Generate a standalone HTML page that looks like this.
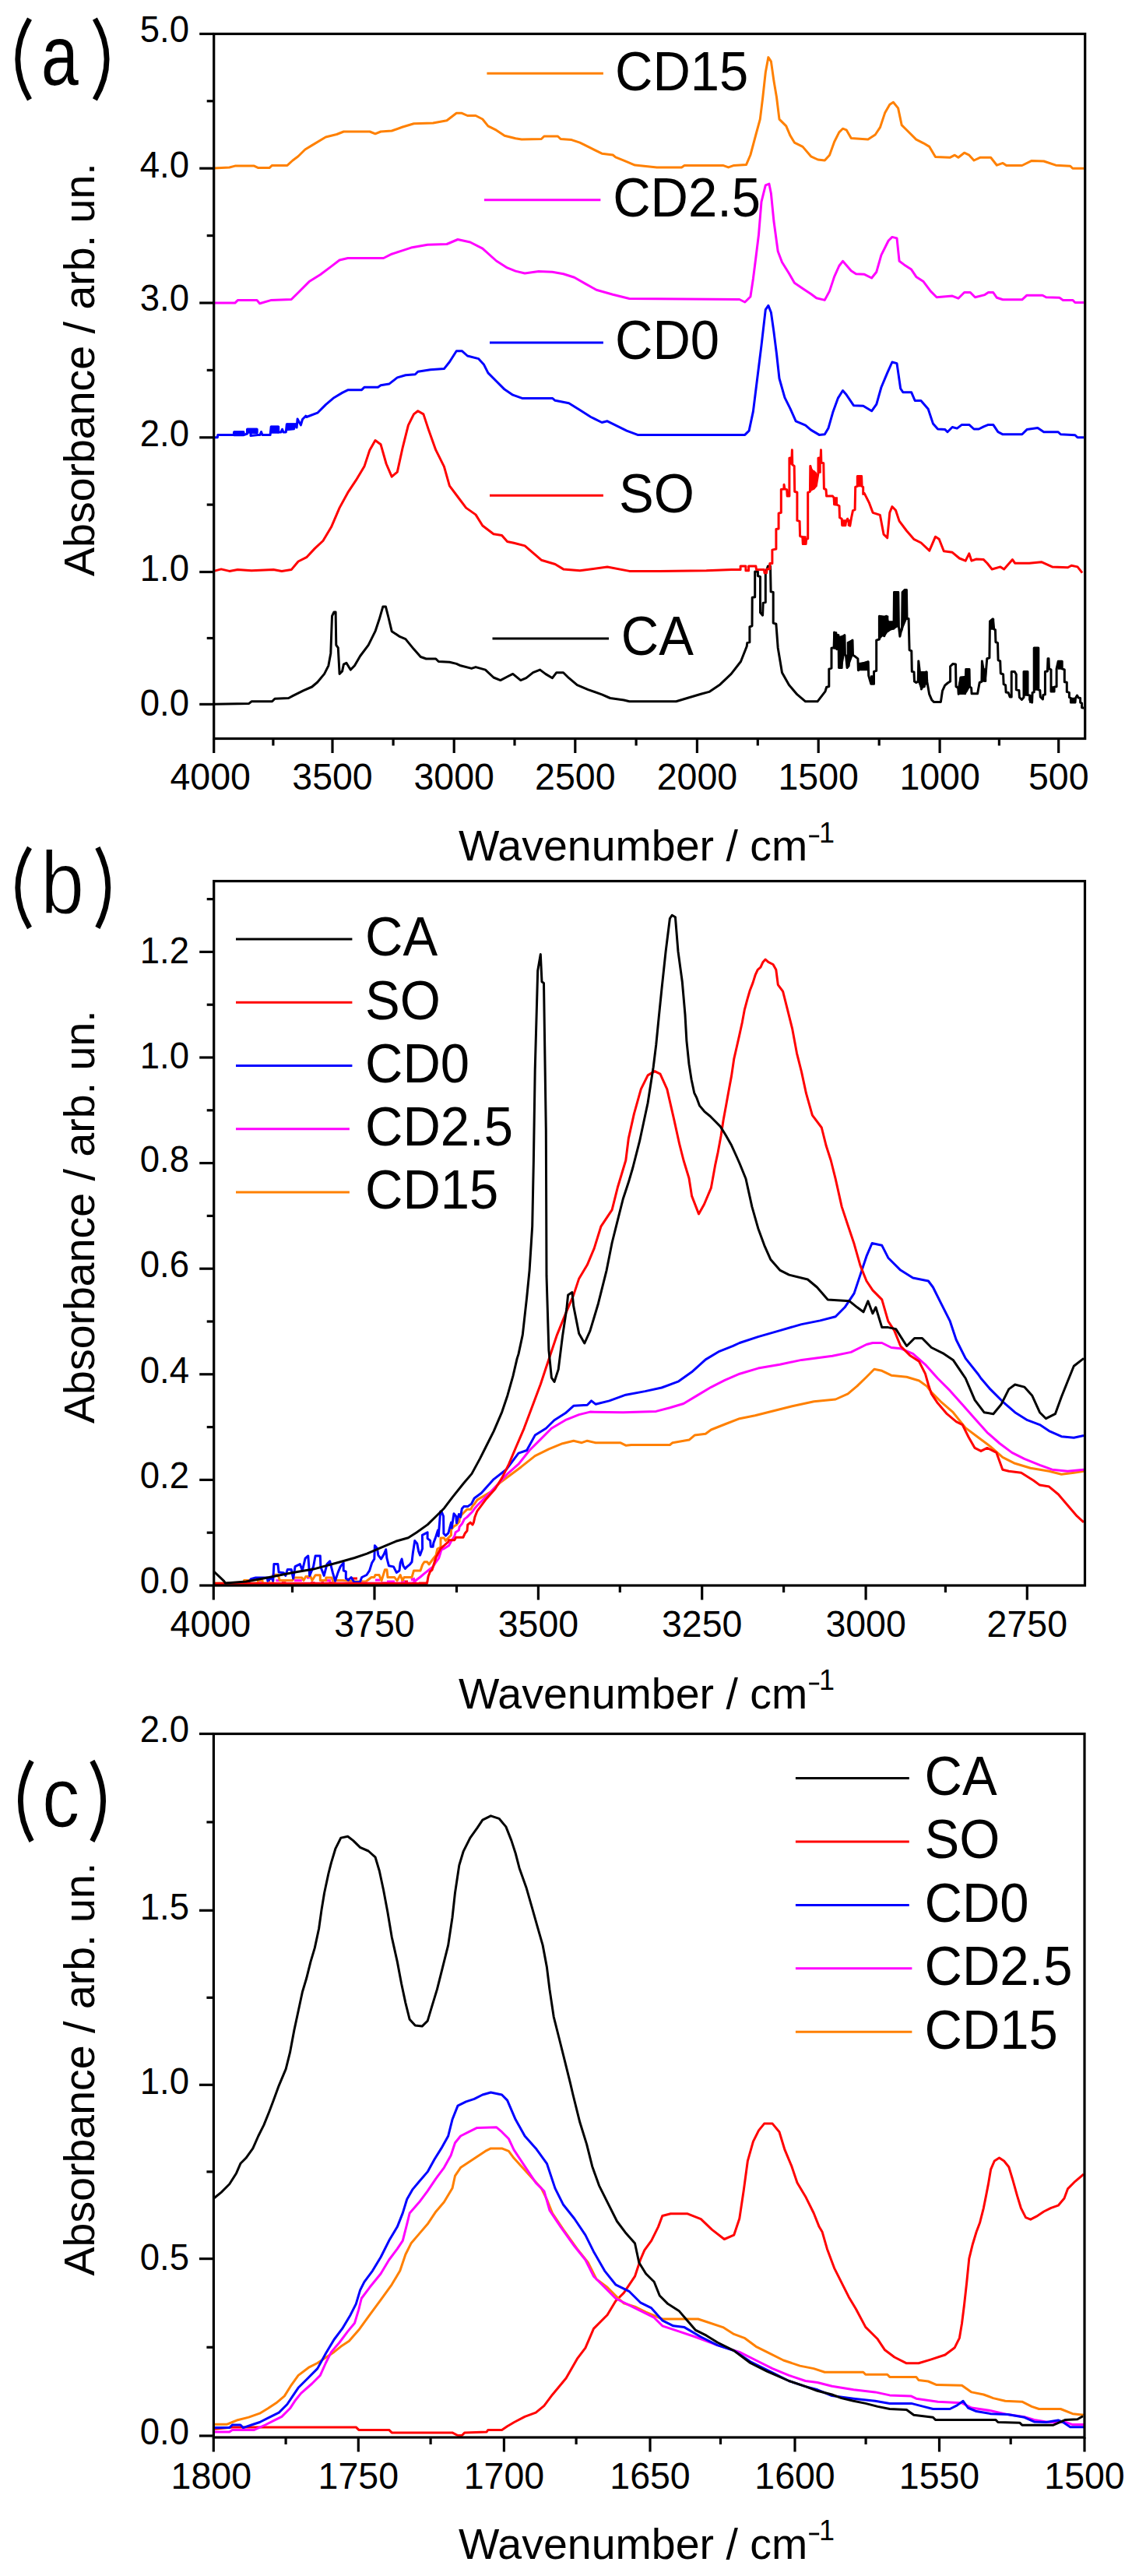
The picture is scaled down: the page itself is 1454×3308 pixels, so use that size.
<!DOCTYPE html><html><head><meta charset="utf-8"><style>html,body{margin:0;padding:0;background:#fff;}svg{display:block;} text{font-family:"Liberation Sans", sans-serif;fill:#000;}</style></head><body>
<svg width="1454" height="3308" viewBox="0 0 1454 3308">
<rect width="1454" height="3308" fill="#fff"/>
<line x1="256.2" y1="43.5" x2="274.7" y2="43.5" stroke="#000" stroke-width="3.20" stroke-linecap="butt"/>
<line x1="256.2" y1="216.2" x2="274.7" y2="216.2" stroke="#000" stroke-width="3.20" stroke-linecap="butt"/>
<line x1="256.2" y1="389.0" x2="274.7" y2="389.0" stroke="#000" stroke-width="3.20" stroke-linecap="butt"/>
<line x1="256.2" y1="561.8" x2="274.7" y2="561.8" stroke="#000" stroke-width="3.20" stroke-linecap="butt"/>
<line x1="256.2" y1="734.5" x2="274.7" y2="734.5" stroke="#000" stroke-width="3.20" stroke-linecap="butt"/>
<line x1="256.2" y1="904.4" x2="274.7" y2="904.4" stroke="#000" stroke-width="3.20" stroke-linecap="butt"/>
<line x1="265.7" y1="819.5" x2="274.7" y2="819.5" stroke="#000" stroke-width="3.20" stroke-linecap="butt"/>
<line x1="265.7" y1="648.1" x2="274.7" y2="648.1" stroke="#000" stroke-width="3.20" stroke-linecap="butt"/>
<line x1="265.7" y1="475.4" x2="274.7" y2="475.4" stroke="#000" stroke-width="3.20" stroke-linecap="butt"/>
<line x1="265.7" y1="302.6" x2="274.7" y2="302.6" stroke="#000" stroke-width="3.20" stroke-linecap="butt"/>
<line x1="265.7" y1="129.8" x2="274.7" y2="129.8" stroke="#000" stroke-width="3.20" stroke-linecap="butt"/>
<text x="0" y="0" font-size="45.5" text-anchor="end" transform="translate(243.0,918.9) scale(1.000,1.050)">0.0</text>
<text x="0" y="0" font-size="45.5" text-anchor="end" transform="translate(243.0,746.0) scale(1.000,1.050)">1.0</text>
<text x="0" y="0" font-size="45.5" text-anchor="end" transform="translate(243.0,572.9) scale(1.000,1.050)">2.0</text>
<text x="0" y="0" font-size="45.5" text-anchor="end" transform="translate(243.0,399.2) scale(1.000,1.050)">3.0</text>
<text x="0" y="0" font-size="45.5" text-anchor="end" transform="translate(243.0,227.5) scale(1.000,1.050)">4.0</text>
<text x="0" y="0" font-size="45.5" text-anchor="end" transform="translate(243.0,54.4) scale(1.000,1.050)">5.0</text>
<line x1="274.7" y1="948.5" x2="274.7" y2="967.0" stroke="#000" stroke-width="3.20" stroke-linecap="butt"/>
<line x1="427.0" y1="948.5" x2="427.0" y2="967.0" stroke="#000" stroke-width="3.20" stroke-linecap="butt"/>
<line x1="583.2" y1="948.5" x2="583.2" y2="967.0" stroke="#000" stroke-width="3.20" stroke-linecap="butt"/>
<line x1="738.8" y1="948.5" x2="738.8" y2="967.0" stroke="#000" stroke-width="3.20" stroke-linecap="butt"/>
<line x1="895.4" y1="948.5" x2="895.4" y2="967.0" stroke="#000" stroke-width="3.20" stroke-linecap="butt"/>
<line x1="1051.2" y1="948.5" x2="1051.2" y2="967.0" stroke="#000" stroke-width="3.20" stroke-linecap="butt"/>
<line x1="1207.1" y1="948.5" x2="1207.1" y2="967.0" stroke="#000" stroke-width="3.20" stroke-linecap="butt"/>
<line x1="1359.7" y1="948.5" x2="1359.7" y2="967.0" stroke="#000" stroke-width="3.20" stroke-linecap="butt"/>
<line x1="350.9" y1="948.5" x2="350.9" y2="957.5" stroke="#000" stroke-width="3.20" stroke-linecap="butt"/>
<line x1="505.1" y1="948.5" x2="505.1" y2="957.5" stroke="#000" stroke-width="3.20" stroke-linecap="butt"/>
<line x1="661.0" y1="948.5" x2="661.0" y2="957.5" stroke="#000" stroke-width="3.20" stroke-linecap="butt"/>
<line x1="817.1" y1="948.5" x2="817.1" y2="957.5" stroke="#000" stroke-width="3.20" stroke-linecap="butt"/>
<line x1="973.3" y1="948.5" x2="973.3" y2="957.5" stroke="#000" stroke-width="3.20" stroke-linecap="butt"/>
<line x1="1129.2" y1="948.5" x2="1129.2" y2="957.5" stroke="#000" stroke-width="3.20" stroke-linecap="butt"/>
<line x1="1283.4" y1="948.5" x2="1283.4" y2="957.5" stroke="#000" stroke-width="3.20" stroke-linecap="butt"/>
<text x="0" y="0" font-size="46.5" text-anchor="middle" transform="translate(270.2,1014.0) scale(1.000,1.050)">4000</text>
<text x="0" y="0" font-size="46.5" text-anchor="middle" transform="translate(427.0,1014.0) scale(1.000,1.050)">3500</text>
<text x="0" y="0" font-size="46.5" text-anchor="middle" transform="translate(583.2,1014.0) scale(1.000,1.050)">3000</text>
<text x="0" y="0" font-size="46.5" text-anchor="middle" transform="translate(738.8,1014.0) scale(1.000,1.050)">2500</text>
<text x="0" y="0" font-size="46.5" text-anchor="middle" transform="translate(895.4,1014.0) scale(1.000,1.050)">2000</text>
<text x="0" y="0" font-size="46.5" text-anchor="middle" transform="translate(1051.2,1014.0) scale(1.000,1.050)">1500</text>
<text x="0" y="0" font-size="46.5" text-anchor="middle" transform="translate(1207.1,1014.0) scale(1.000,1.050)">1000</text>
<text x="0" y="0" font-size="46.5" text-anchor="middle" transform="translate(1359.7,1014.0) scale(1.000,1.050)">500</text>
<polyline points="274.7,904.3 319.5,903.6 323.0,900.8 349.5,900.8 353.0,897.2 370.7,896.5 376.0,893.7 390.1,886.6 400.7,882.0 407.8,876.0 416.6,865.4 421.9,854.8 424.8,838.9 426.5,791.2 429.0,785.9 431.1,785.9 431.8,828.3 434.3,831.9 436.1,865.4 439.6,861.9 441.4,853.1 444.9,851.3 450.2,860.1 455.5,854.8 462.6,842.5 473.2,828.3 482.0,810.7 487.3,794.8 491.9,778.9 495.4,778.9 499.0,793.0 503.2,810.7 513.8,817.7 520.9,820.6 531.5,833.6 540.3,843.5 547.4,846.0 559.8,846.0 563.3,849.5 577.4,850.2 586.3,852.4 591.6,854.8 605.7,858.4 611.0,856.6 623.4,860.1 634.0,870.0 642.8,873.6 651.6,869.0 658.7,865.4 668.8,873.6 675.9,870.7 684.7,863.7 693.6,860.1 700.6,865.4 709.5,870.7 714.8,863.7 723.6,863.7 730.7,870.7 741.3,879.6 755.4,885.6 773.1,891.9 783.7,896.5 801.3,899.0 808.4,900.8 868.5,900.8 882.6,896.5 900.3,891.2 910.9,888.4 925.0,878.9 939.2,865.4 951.5,849.5 959.2,830.0 959.8,825.4 962.9,824.8 962.9,805.0 966.0,803.8 966.2,767.3 969.7,766.7 969.7,733.9 973.4,733.9 973.4,739.5 976.5,740.7 976.5,786.5 979.6,790.2 980.2,774.1 983.3,773.5 983.3,735.8 986.4,727.1 989.5,727.1 990.1,759.9 993.2,760.5 993.2,800.1 996.9,801.3 999.2,831.9 1004.5,863.7 1013.4,879.6 1024.0,891.9 1034.6,900.8 1050.0,900.8 1060.0,887.8 1061.6,882.5 1064.8,881.5 1064.8,859.2 1068.0,858.1 1068.0,832.2 1071.1,831.6 1071.7,812.0 1073.3,813.6 1074.8,833.7 1075.4,815.2 1077.0,815.7 1077.5,857.6 1081.2,857.6 1081.2,818.9 1084.9,815.7 1085.4,841.2 1086.5,841.7 1088.1,857.6 1090.2,855.0 1090.7,825.3 1095.0,822.1 1095.5,841.2 1098.7,843.3 1101.9,845.9 1102.4,860.8 1105.6,856.0 1107.7,852.3 1115.1,849.7 1115.7,867.7 1118.8,878.3 1122.5,878.3 1122.5,862.4 1125.7,861.3 1125.7,822.1 1129.4,821.0 1129.4,791.3 1133.1,791.9 1135.8,816.8 1136.3,813.6 1138.4,791.3 1140.6,798.8 1140.6,810.4 1143.7,807.2 1148.0,807.2 1148.5,760.6 1153.8,760.6 1154.4,804.1 1155.9,817.3 1158.6,805.1 1159.1,760.6 1162.3,757.4 1164.4,757.4 1165.0,794.5 1167.1,794.5 1168.1,834.8 1170.8,835.9 1171.3,862.4 1174.0,862.9 1174.5,875.1 1176.6,876.5 1179.2,875.4 1179.8,848.9 1181.4,862.7 1183.5,885.0 1185.1,863.7 1187.2,881.8 1189.8,862.7 1190.9,875.9 1193.6,891.3 1196.7,898.7 1199.4,901.4 1208.4,901.4 1210.5,887.1 1213.7,880.2 1217.4,877.0 1220.6,874.9 1220.6,855.8 1223.8,852.6 1227.5,853.1 1228.0,881.8 1230.7,883.4 1231.2,891.3 1233.8,870.1 1238.6,869.6 1239.7,890.8 1240.7,859.5 1245.0,859.5 1245.5,881.8 1247.6,883.4 1248.1,890.8 1255.6,890.8 1258.2,876.5 1260.9,875.4 1261.4,848.9 1263.0,859.0 1265.1,874.4 1266.2,864.8 1267.8,845.7 1270.9,844.7 1271.5,798.0 1275.2,794.8 1276.8,808.1 1278.4,808.6 1278.9,824.5 1281.5,825.6 1282.1,847.8 1284.7,848.9 1285.3,864.8 1286.0,865.0 1288.6,866.0 1289.1,878.7 1291.6,879.8 1292.1,888.9 1295.2,889.4 1297.2,895.0 1299.2,895.0 1299.2,862.5 1303.3,862.5 1305.3,866.0 1305.3,885.8 1308.9,886.4 1309.4,895.5 1312.4,898.5 1315.0,895.5 1315.0,862.5 1320.0,862.5 1320.0,892.5 1322.6,893.0 1322.6,898.5 1325.6,902.1 1326.1,889.4 1328.2,888.9 1328.2,832.0 1333.8,832.0 1333.8,885.8 1335.8,886.4 1336.3,895.0 1339.4,898.0 1339.9,892.5 1342.4,891.9 1342.4,862.5 1345.4,862.0 1346.0,845.7 1347.0,845.7 1347.5,858.9 1350.0,859.9 1350.0,887.9 1354.1,887.9 1354.1,882.3 1357.1,881.8 1357.1,858.9 1359.2,849.3 1364.2,849.3 1364.2,858.9 1367.3,859.9 1367.3,875.7 1370.3,876.2 1370.3,888.4 1373.4,889.4 1373.4,895.5 1375.4,896.5 1375.4,902.1 1381.0,902.1 1381.5,896.5 1383.5,893.0 1385.1,896.0 1387.6,896.5 1387.6,902.1 1389.6,903.1 1389.6,908.7 1392.2,909.2" fill="none" stroke="#000000" stroke-width="3.00" stroke-linejoin="round" stroke-linecap="butt"/>
<polyline points="274.7,733.4 284.1,730.9 294.7,733.4 305.3,731.6 323.0,732.7 351.3,731.6 361.9,733.4 374.2,731.6 383.1,721.0 393.7,715.7 404.3,704.4 414.9,694.5 425.5,676.8 436.1,652.1 446.7,632.7 457.3,616.7 467.9,599.1 474.9,577.9 482.0,565.5 489.1,570.8 496.1,595.5 503.2,612.2 510.3,606.1 517.3,574.3 524.4,546.1 531.5,531.9 536.8,527.7 543.9,531.9 550.9,553.1 559.8,577.9 570.4,599.1 577.4,623.8 588.0,638.0 598.6,652.1 611.0,660.9 619.8,675.0 633.9,685.7 644.6,687.4 651.6,695.5 660.0,697.3 674.1,700.9 695.3,719.2 713.0,724.5 723.6,730.9 744.8,732.7 780.1,728.0 808.4,733.4 847.3,733.4 907.3,732.7 940.0,731.4 951.1,731.4 951.1,727.1 957.9,727.1 957.9,732.7 961.6,732.7 961.6,727.1 970.9,727.1 971.5,731.4 981.4,731.4 982.0,735.8 984.5,735.8 985.1,730.8 988.8,730.8 988.8,723.4 991.9,723.4 991.9,706.1 996.9,705.0 996.9,679.5 1000.1,679.0 1000.1,659.3 1003.3,658.3 1003.3,628.6 1007.0,628.1 1007.0,622.2 1008.0,628.1 1010.7,628.6 1011.2,637.1 1013.9,637.1 1013.9,588.3 1017.0,587.8 1017.4,577.7 1017.8,596.8 1020.2,598.4 1020.7,631.3 1023.9,632.3 1023.9,668.4 1027.1,669.4 1027.6,688.5 1030.8,689.6 1031.3,698.6 1035.1,698.6 1035.6,692.7 1037.7,691.7 1037.7,632.3 1040.4,631.3 1040.9,598.4 1042.5,605.3 1045.1,605.3 1047.8,608.5 1048.3,623.8 1045.1,627.5 1042.5,628.0 1042.5,603.0 1044.0,625.0 1046.5,608.0 1048.3,624.0 1051.0,607.4 1051.0,588.3 1054.1,587.8 1054.5,577.7 1054.9,594.2 1057.8,594.7 1058.4,627.5 1061.0,628.6 1061.6,637.1 1069.5,637.1 1071.1,639.2 1071.6,647.7 1075.3,648.2 1078.0,649.8 1078.5,664.7 1081.2,666.2 1081.7,674.7 1085.9,674.7 1086.5,670.5 1088.6,666.2 1091.8,675.3 1093.4,665.7 1095.5,655.6 1098.1,654.6 1098.7,625.4 1101.3,624.4 1101.3,611.6 1106.6,611.6 1107.1,624.4 1108.7,625.4 1108.7,634.4 1110.3,633.6 1116.5,645.9 1121.1,658.3 1130.4,661.4 1135.0,686.1 1139.7,690.8 1142.8,658.3 1145.9,650.6 1150.5,655.2 1155.1,669.1 1164.4,681.5 1173.7,692.3 1183.0,697.0 1193.8,707.2 1201.5,689.2 1206.2,692.3 1212.3,707.8 1223.2,709.3 1232.4,717.0 1240.2,720.1 1244.8,710.9 1247.9,720.1 1254.1,718.0 1263.4,718.6 1268.0,723.2 1274.2,731.0 1285.0,727.9 1289.6,731.0 1300.5,718.6 1303.6,723.2 1322.1,723.2 1337.6,721.7 1351.5,727.9 1371.6,728.8 1376.2,726.3 1384.0,727.9 1390.1,735.6" fill="none" stroke="#ff0000" stroke-width="3.00" stroke-linejoin="round" stroke-linecap="butt"/>
<polyline points="274.7,561.8 279.3,561.8 279.8,558.6 300.5,558.6 300.5,555.0 313.0,555.0 313.0,558.6 317.5,557.0 317.5,551.2 330.2,551.2 330.2,555.5 322.0,555.5 322.0,559.5 331.2,558.6 334.0,558.6 335.5,554.5 337.0,558.6 347.1,558.6 348.2,548.0 357.7,548.0 357.7,554.9 361.0,554.9 362.5,551.2 364.0,554.9 367.3,554.9 368.3,545.0 381.1,545.0 381.1,549.0 382.1,538.0 386.4,545.9 388.5,538.5 392.7,534.2 393.7,535.5 407.8,530.2 418.4,519.6 429.0,510.7 439.6,504.4 446.7,500.8 464.3,500.8 467.9,497.3 485.5,497.3 489.1,494.8 499.7,493.1 510.3,484.9 520.9,481.8 533.3,480.7 536.8,477.2 552.7,474.7 570.4,473.6 577.4,464.8 586.3,450.7 593.3,450.7 600.4,457.0 614.5,460.6 621.6,468.3 626.9,478.9 637.5,489.5 648.1,500.1 658.7,507.2 670.6,511.4 709.5,511.4 713.0,514.3 730.7,517.8 744.8,526.6 758.9,535.5 773.1,542.5 780.1,540.8 794.3,547.8 804.9,553.1 819.0,558.4 956.8,558.4 962.1,553.1 967.4,528.4 972.7,486.0 978.0,443.6 983.3,397.7 986.9,392.4 990.4,401.2 993.9,425.9 997.5,454.2 1001.0,486.0 1008.0,510.7 1015.1,524.9 1022.2,540.8 1034.6,546.1 1041.6,552.1 1052.2,558.4 1059.3,557.8 1063.9,550.1 1070.1,528.4 1076.3,511.4 1082.5,501.5 1087.1,506.8 1096.4,520.7 1108.8,521.3 1119.6,527.8 1125.8,519.1 1131.9,497.5 1139.7,478.9 1145.9,465.0 1152.0,466.6 1156.7,499.0 1159.8,503.7 1170.6,503.7 1175.2,514.5 1182.9,514.5 1192.2,525.3 1198.4,543.9 1204.6,551.0 1213.9,551.6 1217.0,554.7 1223.2,548.5 1229.3,550.1 1235.5,545.4 1244.8,545.4 1251.0,551.0 1257.2,551.0 1263.4,547.9 1269.5,545.4 1275.7,545.4 1281.9,554.7 1288.1,557.8 1312.8,557.8 1319.0,551.6 1332.9,549.4 1340.7,554.7 1359.2,554.7 1362.3,557.8 1380.9,558.7 1384.0,561.8 1392.0,561.8" fill="none" stroke="#0000ff" stroke-width="3.00" stroke-linejoin="round" stroke-linecap="butt"/>
<polyline points="274.7,389.1 301.8,389.1 305.3,385.6 330.0,385.6 333.6,389.8 347.7,385.6 374.2,384.5 383.1,375.7 397.2,361.6 411.3,352.7 425.5,342.1 436.1,334.0 446.7,331.5 492.6,331.5 503.2,326.2 517.3,321.6 528.0,318.1 549.2,314.2 573.9,313.5 588.0,307.5 603.9,311.0 619.8,319.2 637.5,335.0 651.6,343.9 662.2,348.1 674.1,351.0 691.8,348.5 709.5,349.2 723.6,351.7 737.7,356.3 751.9,364.4 766.0,372.2 787.2,378.2 808.4,383.5 949.8,384.5 956.8,388.0 963.9,381.0 967.4,358.0 971.0,329.8 974.5,301.5 978.0,259.1 983.3,237.9 987.9,236.1 990.4,248.5 993.9,283.8 999.2,322.7 1004.5,336.8 1013.4,351.0 1020.4,363.3 1031.0,370.4 1041.6,377.5 1048.7,382.8 1059.3,385.4 1065.5,373.9 1071.6,355.4 1077.8,341.5 1082.5,335.3 1093.3,347.7 1099.5,351.7 1110.3,352.3 1119.6,357.0 1125.8,349.2 1131.9,327.6 1141.2,309.0 1145.9,304.4 1152.0,305.9 1155.1,335.3 1161.3,339.9 1170.6,346.1 1176.8,355.4 1186.1,361.6 1195.3,373.9 1203.1,381.7 1223.2,380.1 1230.9,383.2 1238.6,375.5 1246.3,375.5 1252.5,381.7 1264.9,378.6 1269.5,375.5 1275.7,375.5 1280.4,382.3 1288.1,384.8 1312.8,384.8 1319.0,379.2 1339.1,379.2 1343.7,381.7 1360.8,382.3 1365.4,385.4 1377.8,385.4 1380.9,388.5 1392.0,388.5" fill="none" stroke="#ff00ff" stroke-width="3.00" stroke-linejoin="round" stroke-linecap="butt"/>
<polyline points="274.7,216.0 294.7,215.0 301.8,213.1 326.5,213.1 331.8,215.6 346.0,215.6 349.5,212.4 369.0,212.4 376.0,206.0 383.0,200.8 391.9,192.0 400.7,186.6 418.4,176.0 432.5,172.5 441.4,169.0 475.0,169.0 482.0,171.8 489.0,169.0 503.2,168.0 517.3,163.0 531.5,158.7 556.2,158.0 573.9,154.8 586.3,145.3 593.3,145.3 600.4,148.5 611.0,148.5 619.8,153.0 626.9,161.9 637.5,167.2 648.1,174.3 662.2,177.8 670.0,178.9 695.3,178.5 698.9,175.0 716.5,175.0 720.1,178.5 734.2,179.6 744.8,183.1 758.9,190.2 773.1,197.2 787.2,199.0 790.7,201.8 801.3,206.1 815.5,212.1 843.7,214.9 875.5,214.9 879.1,212.4 928.6,212.4 935.6,214.9 942.7,212.4 958.6,211.4 963.9,199.0 971.0,172.5 976.3,153.1 979.8,124.8 983.3,93.0 986.9,73.6 990.4,78.9 993.9,103.6 997.5,124.8 1001.0,153.1 1009.8,161.9 1015.1,174.3 1020.4,183.1 1031.0,188.4 1041.6,200.8 1050.5,205.0 1059.3,206.0 1065.5,199.2 1071.6,182.2 1077.8,169.9 1082.5,165.2 1087.1,166.8 1093.3,177.6 1114.9,179.1 1124.2,173.0 1130.4,163.7 1136.6,145.1 1142.8,134.3 1147.4,131.2 1153.6,138.9 1158.2,160.6 1164.4,166.8 1176.8,179.1 1186.1,183.8 1193.8,188.4 1201.5,201.4 1220.1,202.3 1226.3,199.2 1230.9,202.3 1238.6,196.2 1244.8,199.2 1251.0,206.0 1258.7,202.3 1272.6,202.3 1280.4,212.2 1288.1,209.4 1292.7,212.5 1312.8,212.5 1325.2,206.4 1340.7,207.0 1356.1,212.2 1374.7,213.2 1377.8,216.3 1392.0,216.3" fill="none" stroke="#ff8000" stroke-width="3.00" stroke-linejoin="round" stroke-linecap="butt"/>
<polygon points="300.5,554.0 313.0,554.0 313.0,559.5 300.5,559.5" fill="#0000ff" stroke="#0000ff" stroke-width="1.5" stroke-linejoin="round"/>
<polygon points="317.5,550.5 330.2,550.5 330.2,556.0 317.5,556.0" fill="#0000ff" stroke="#0000ff" stroke-width="1.5" stroke-linejoin="round"/>
<polygon points="348.2,547.5 357.7,547.5 357.7,556.0 348.2,556.0" fill="#0000ff" stroke="#0000ff" stroke-width="1.5" stroke-linejoin="round"/>
<polygon points="368.3,544.0 381.1,544.0 378.0,551.5 368.3,552.5" fill="#0000ff" stroke="#0000ff" stroke-width="1.5" stroke-linejoin="round"/>
<polygon points="1071.0,812.0 1074.5,812.0 1074.5,833.0 1071.0,833.0" fill="#000000" stroke="#000000" stroke-width="1.5" stroke-linejoin="round"/>
<polygon points="1077.5,818.0 1084.0,816.0 1084.0,841.0 1081.0,857.6 1077.5,857.6" fill="#000000" stroke="#000000" stroke-width="1.5" stroke-linejoin="round"/>
<polygon points="1088.5,825.0 1095.0,822.0 1095.0,841.0 1090.0,855.0 1088.5,855.0" fill="#000000" stroke="#000000" stroke-width="1.5" stroke-linejoin="round"/>
<polygon points="1102.0,852.0 1115.5,849.7 1115.5,860.5 1102.0,860.5" fill="#000000" stroke="#000000" stroke-width="1.5" stroke-linejoin="round"/>
<polygon points="1118.8,868.0 1122.5,868.0 1122.5,878.3 1118.8,878.3" fill="#000000" stroke="#000000" stroke-width="1.5" stroke-linejoin="round"/>
<polygon points="1129.4,791.3 1140.6,791.3 1140.6,798.0 1148.0,798.0 1148.0,807.2 1140.6,810.4 1136.0,816.8 1133.0,816.8 1129.4,821.0" fill="#000000" stroke="#000000" stroke-width="1.5" stroke-linejoin="round"/>
<polygon points="1148.5,760.6 1153.8,760.6 1153.8,804.0 1148.5,807.0" fill="#000000" stroke="#000000" stroke-width="1.5" stroke-linejoin="round"/>
<polygon points="1159.1,760.6 1162.3,757.4 1164.4,757.4 1164.4,794.5 1160.0,805.0 1158.6,810.0" fill="#000000" stroke="#000000" stroke-width="1.5" stroke-linejoin="round"/>
<polygon points="1179.8,862.7 1190.9,862.7 1190.9,876.0 1187.0,882.0 1183.5,885.0 1180.0,876.0" fill="#000000" stroke="#000000" stroke-width="1.5" stroke-linejoin="round"/>
<polygon points="1230.7,883.0 1233.8,870.1 1240.7,870.1 1240.7,859.5 1245.3,859.5 1245.3,881.8 1242.0,888.0 1239.0,891.3 1231.0,891.3" fill="#000000" stroke="#000000" stroke-width="1.5" stroke-linejoin="round"/>
<polygon points="1261.2,859.0 1266.5,859.0 1266.5,875.0 1261.2,875.0" fill="#000000" stroke="#000000" stroke-width="1.5" stroke-linejoin="round"/>
<polygon points="1271.2,798.0 1274.5,795.0 1276.5,795.0 1276.5,808.0 1271.2,808.0" fill="#000000" stroke="#000000" stroke-width="1.5" stroke-linejoin="round"/>
<polygon points="1315.0,862.5 1320.0,862.5 1320.0,893.0 1315.0,893.0" fill="#000000" stroke="#000000" stroke-width="1.5" stroke-linejoin="round"/>
<polygon points="1328.2,832.0 1333.8,832.0 1333.8,886.0 1328.2,886.0" fill="#000000" stroke="#000000" stroke-width="1.5" stroke-linejoin="round"/>
<polygon points="1350.0,882.0 1354.0,882.0 1354.0,888.0 1350.0,888.0" fill="#000000" stroke="#000000" stroke-width="1.5" stroke-linejoin="round"/>
<polygon points="1359.2,849.3 1364.2,849.3 1364.2,859.0 1359.2,859.0" fill="#000000" stroke="#000000" stroke-width="1.5" stroke-linejoin="round"/>
<polygon points="1322.6,893.0 1325.6,893.0 1325.6,902.0 1322.6,902.0" fill="#000000" stroke="#000000" stroke-width="1.5" stroke-linejoin="round"/>
<polygon points="1375.4,896.5 1381.0,896.5 1381.0,902.0 1375.4,902.0" fill="#000000" stroke="#000000" stroke-width="1.5" stroke-linejoin="round"/>
<polygon points="1014.0,588.0 1017.0,588.0 1017.0,596.0 1014.0,596.0" fill="#ff0000" stroke="#ff0000" stroke-width="1.5" stroke-linejoin="round"/>
<polygon points="1040.5,598.0 1042.5,603.0 1048.0,607.0 1048.0,624.0 1045.0,628.0 1040.5,631.0" fill="#ff0000" stroke="#ff0000" stroke-width="1.5" stroke-linejoin="round"/>
<polygon points="1051.0,588.0 1054.0,588.0 1054.0,607.0 1051.0,607.0" fill="#ff0000" stroke="#ff0000" stroke-width="1.5" stroke-linejoin="round"/>
<polygon points="1101.3,611.6 1106.6,611.6 1106.6,624.4 1101.3,624.4" fill="#ff0000" stroke="#ff0000" stroke-width="1.5" stroke-linejoin="round"/>
<polygon points="1081.7,668.0 1086.0,668.0 1086.0,675.0 1081.7,675.0" fill="#ff0000" stroke="#ff0000" stroke-width="1.5" stroke-linejoin="round"/>
<polygon points="1089.5,668.0 1092.0,668.0 1092.0,675.0 1089.5,675.0" fill="#ff0000" stroke="#ff0000" stroke-width="1.5" stroke-linejoin="round"/>
<polygon points="1071.1,639.0 1075.3,639.0 1075.3,648.0 1071.1,648.0" fill="#ff0000" stroke="#ff0000" stroke-width="1.5" stroke-linejoin="round"/>
<polygon points="1031.0,689.0 1035.0,689.0 1035.0,699.0 1031.0,699.0" fill="#ff0000" stroke="#ff0000" stroke-width="1.5" stroke-linejoin="round"/>
<rect x="274.7" y="43.5" width="1119.0" height="905.0" fill="none" stroke="#000" stroke-width="3.20"/>
<line x1="625.4" y1="94.2" x2="774.9" y2="94.2" stroke="#ff8000" stroke-width="3.00" stroke-linecap="butt"/>
<text x="0" y="0" font-size="67.0" text-anchor="start" transform="translate(790.0,115.5) scale(1.000,1.050)">CD15</text>
<line x1="621.9" y1="256.7" x2="771.4" y2="256.7" stroke="#ff00ff" stroke-width="3.00" stroke-linecap="butt"/>
<text x="0" y="0" font-size="67.0" text-anchor="start" transform="translate(787.2,278.0) scale(1.000,1.050)">CD2.5</text>
<line x1="629.0" y1="440.1" x2="774.9" y2="440.1" stroke="#0000ff" stroke-width="3.00" stroke-linecap="butt"/>
<text x="0" y="0" font-size="67.0" text-anchor="start" transform="translate(790.0,461.4) scale(1.000,1.050)">CD0</text>
<line x1="629.0" y1="636.2" x2="774.9" y2="636.2" stroke="#ff0000" stroke-width="3.00" stroke-linecap="butt"/>
<text x="0" y="0" font-size="67.0" text-anchor="start" transform="translate(795.0,657.5) scale(1.000,1.050)">SO</text>
<line x1="632.5" y1="820.0" x2="782.0" y2="820.0" stroke="#000000" stroke-width="3.00" stroke-linecap="butt"/>
<text x="0" y="0" font-size="67.0" text-anchor="start" transform="translate(797.8,841.3) scale(1.000,1.050)">CA</text>
<text x="0" y="0" font-size="55.5" transform="translate(120.5,740.0) rotate(-90)">Absorbance / arb. un.</text>
<text x="589.0" y="1105.4" font-size="55.5">Wavenumber / cm</text>
<rect x="1039.2" y="1072.5" width="13.0" height="2.8" fill="#000"/>
<text x="1052.0" y="1081.5" font-size="36">1</text>
<path d="M38.0,24.1 Q7.6,76.0 38.0,127.9" fill="none" stroke="#000" stroke-width="6.8"/>
<path d="M121.9,24.1 Q152.3,76.0 121.9,127.9" fill="none" stroke="#000" stroke-width="6.8"/>
<text x="0" y="0" font-size="110.0" stroke="#fff" stroke-width="0.01" paint-order="fill" transform="translate(53.0,108.8) scale(0.780,1)">a</text>
<line x1="256.2" y1="2036.0" x2="274.7" y2="2036.0" stroke="#000" stroke-width="3.20" stroke-linecap="butt"/>
<line x1="256.2" y1="1900.4" x2="274.7" y2="1900.4" stroke="#000" stroke-width="3.20" stroke-linecap="butt"/>
<line x1="256.2" y1="1764.8" x2="274.7" y2="1764.8" stroke="#000" stroke-width="3.20" stroke-linecap="butt"/>
<line x1="256.2" y1="1629.2" x2="274.7" y2="1629.2" stroke="#000" stroke-width="3.20" stroke-linecap="butt"/>
<line x1="256.2" y1="1493.6" x2="274.7" y2="1493.6" stroke="#000" stroke-width="3.20" stroke-linecap="butt"/>
<line x1="256.2" y1="1358.0" x2="274.7" y2="1358.0" stroke="#000" stroke-width="3.20" stroke-linecap="butt"/>
<line x1="256.2" y1="1222.4" x2="274.7" y2="1222.4" stroke="#000" stroke-width="3.20" stroke-linecap="butt"/>
<line x1="265.7" y1="1968.2" x2="274.7" y2="1968.2" stroke="#000" stroke-width="3.20" stroke-linecap="butt"/>
<line x1="265.7" y1="1832.6" x2="274.7" y2="1832.6" stroke="#000" stroke-width="3.20" stroke-linecap="butt"/>
<line x1="265.7" y1="1697.0" x2="274.7" y2="1697.0" stroke="#000" stroke-width="3.20" stroke-linecap="butt"/>
<line x1="265.7" y1="1561.4" x2="274.7" y2="1561.4" stroke="#000" stroke-width="3.20" stroke-linecap="butt"/>
<line x1="265.7" y1="1425.8" x2="274.7" y2="1425.8" stroke="#000" stroke-width="3.20" stroke-linecap="butt"/>
<line x1="265.7" y1="1290.2" x2="274.7" y2="1290.2" stroke="#000" stroke-width="3.20" stroke-linecap="butt"/>
<line x1="265.7" y1="1154.6" x2="274.7" y2="1154.6" stroke="#000" stroke-width="3.20" stroke-linecap="butt"/>
<text x="0" y="0" font-size="45.5" text-anchor="end" transform="translate(243.0,2045.8) scale(1.000,1.050)">0.0</text>
<text x="0" y="0" font-size="45.5" text-anchor="end" transform="translate(243.0,1911.2) scale(1.000,1.050)">0.2</text>
<text x="0" y="0" font-size="45.5" text-anchor="end" transform="translate(243.0,1775.7) scale(1.000,1.050)">0.4</text>
<text x="0" y="0" font-size="45.5" text-anchor="end" transform="translate(243.0,1639.9) scale(1.000,1.050)">0.6</text>
<text x="0" y="0" font-size="45.5" text-anchor="end" transform="translate(243.0,1505.1) scale(1.000,1.050)">0.8</text>
<text x="0" y="0" font-size="45.5" text-anchor="end" transform="translate(243.0,1372.2) scale(1.000,1.050)">1.0</text>
<text x="0" y="0" font-size="45.5" text-anchor="end" transform="translate(243.0,1237.2) scale(1.000,1.050)">1.2</text>
<line x1="274.3" y1="2036.0" x2="274.3" y2="2054.5" stroke="#000" stroke-width="3.20" stroke-linecap="butt"/>
<line x1="481.0" y1="2036.0" x2="481.0" y2="2054.5" stroke="#000" stroke-width="3.20" stroke-linecap="butt"/>
<line x1="691.4" y1="2036.0" x2="691.4" y2="2054.5" stroke="#000" stroke-width="3.20" stroke-linecap="butt"/>
<line x1="901.7" y1="2036.0" x2="901.7" y2="2054.5" stroke="#000" stroke-width="3.20" stroke-linecap="butt"/>
<line x1="1112.1" y1="2036.0" x2="1112.1" y2="2054.5" stroke="#000" stroke-width="3.20" stroke-linecap="butt"/>
<line x1="1319.3" y1="2036.0" x2="1319.3" y2="2054.5" stroke="#000" stroke-width="3.20" stroke-linecap="butt"/>
<line x1="375.5" y1="2036.0" x2="375.5" y2="2045.0" stroke="#000" stroke-width="3.20" stroke-linecap="butt"/>
<line x1="586.5" y1="2036.0" x2="586.5" y2="2045.0" stroke="#000" stroke-width="3.20" stroke-linecap="butt"/>
<line x1="796.3" y1="2036.0" x2="796.3" y2="2045.0" stroke="#000" stroke-width="3.20" stroke-linecap="butt"/>
<line x1="1006.6" y1="2036.0" x2="1006.6" y2="2045.0" stroke="#000" stroke-width="3.20" stroke-linecap="butt"/>
<line x1="1214.4" y1="2036.0" x2="1214.4" y2="2045.0" stroke="#000" stroke-width="3.20" stroke-linecap="butt"/>
<text x="0" y="0" font-size="46.5" text-anchor="middle" transform="translate(270.3,2101.5) scale(1.000,1.050)">4000</text>
<text x="0" y="0" font-size="46.5" text-anchor="middle" transform="translate(481.0,2101.5) scale(1.000,1.050)">3750</text>
<text x="0" y="0" font-size="46.5" text-anchor="middle" transform="translate(691.4,2101.5) scale(1.000,1.050)">3500</text>
<text x="0" y="0" font-size="46.5" text-anchor="middle" transform="translate(901.7,2101.5) scale(1.000,1.050)">3250</text>
<text x="0" y="0" font-size="46.5" text-anchor="middle" transform="translate(1112.1,2101.5) scale(1.000,1.050)">3000</text>
<text x="0" y="0" font-size="46.5" text-anchor="middle" transform="translate(1319.3,2101.5) scale(1.000,1.050)">2750</text>
<polyline points="344.5,2029.6 347.0,2029.6" fill="none" stroke="#ff0000" stroke-width="3.00" stroke-linejoin="round" stroke-linecap="butt"/>
<polyline points="361.8,2032.7 367.4,2032.7" fill="none" stroke="#ff0000" stroke-width="3.00" stroke-linejoin="round" stroke-linecap="butt"/>
<polyline points="398.9,2032.7 404.5,2032.7" fill="none" stroke="#ff0000" stroke-width="3.00" stroke-linejoin="round" stroke-linecap="butt"/>
<polyline points="412.5,2032.7 416.0,2032.7" fill="none" stroke="#ff0000" stroke-width="3.00" stroke-linejoin="round" stroke-linecap="butt"/>
<polyline points="422.5,2032.7 428.5,2032.7" fill="none" stroke="#ff0000" stroke-width="3.00" stroke-linejoin="round" stroke-linecap="butt"/>
<polyline points="445.0,2028.0 448.0,2028.0" fill="none" stroke="#ff0000" stroke-width="3.00" stroke-linejoin="round" stroke-linecap="butt"/>
<polyline points="451.0,2027.0 459.0,2027.0" fill="none" stroke="#ff0000" stroke-width="3.00" stroke-linejoin="round" stroke-linecap="butt"/>
<polyline points="490.0,2033.0 503.0,2033.0" fill="none" stroke="#ff0000" stroke-width="3.00" stroke-linejoin="round" stroke-linecap="butt"/>
<polyline points="517.0,2031.0 524.0,2031.0" fill="none" stroke="#ff0000" stroke-width="3.00" stroke-linejoin="round" stroke-linecap="butt"/>
<polyline points="531.0,2030.0 535.0,2030.0" fill="none" stroke="#ff0000" stroke-width="3.00" stroke-linejoin="round" stroke-linecap="butt"/>
<polyline points="538.0,2033.0 548.0,2033.0" fill="none" stroke="#ff0000" stroke-width="3.00" stroke-linejoin="round" stroke-linecap="butt"/>
<polyline points="313.6,2032.7 316.6,2032.7" fill="none" stroke="#ff00ff" stroke-width="3.00" stroke-linejoin="round" stroke-linecap="butt"/>
<polyline points="331.0,2032.7 337.0,2032.7" fill="none" stroke="#ff00ff" stroke-width="3.00" stroke-linejoin="round" stroke-linecap="butt"/>
<polyline points="354.4,2029.6 360.5,2029.6" fill="none" stroke="#ff00ff" stroke-width="3.00" stroke-linejoin="round" stroke-linecap="butt"/>
<polyline points="377.9,2029.6 387.8,2029.6" fill="none" stroke="#ff00ff" stroke-width="3.00" stroke-linejoin="round" stroke-linecap="butt"/>
<polyline points="394.0,2026.0 397.7,2026.0" fill="none" stroke="#ff00ff" stroke-width="3.00" stroke-linejoin="round" stroke-linecap="butt"/>
<polyline points="418.7,2029.6 425.0,2029.6" fill="none" stroke="#ff00ff" stroke-width="3.00" stroke-linejoin="round" stroke-linecap="butt"/>
<polyline points="462.0,2031.0 466.0,2031.0" fill="none" stroke="#ff00ff" stroke-width="3.00" stroke-linejoin="round" stroke-linecap="butt"/>
<polyline points="482.0,2029.0 488.0,2029.0" fill="none" stroke="#ff00ff" stroke-width="3.00" stroke-linejoin="round" stroke-linecap="butt"/>
<polyline points="497.0,2031.0 507.0,2031.0" fill="none" stroke="#ff00ff" stroke-width="3.00" stroke-linejoin="round" stroke-linecap="butt"/>
<polyline points="515.0,2031.0 520.0,2031.0" fill="none" stroke="#ff00ff" stroke-width="3.00" stroke-linejoin="round" stroke-linecap="butt"/>
<polyline points="528.0,2029.0 533.0,2027.0" fill="none" stroke="#ff00ff" stroke-width="3.00" stroke-linejoin="round" stroke-linecap="butt"/>
<polyline points="274.7,2033.0 313.0,2033.0 313.6,2029.6 319.8,2029.6 320.5,2033.0 331.0,2033.0 331.5,2029.6 337.0,2029.6 337.5,2033.0 350.7,2033.0 350.7,2022.2 356.9,2022.2 359.4,2029.6 375.4,2029.6 377.9,2025.9 387.8,2025.9 390.0,2029.6 392.7,2024.6 398.9,2024.6 401.0,2029.6 405.1,2022.8 411.3,2022.8 411.3,2029.6 418.7,2029.6 418.7,2025.9 426.1,2025.9 428.0,2032.0 431.0,2029.6 440.0,2029.6 455.0,2031.0 470.0,2031.0 477.0,2025.5 480.8,2025.5 482.0,2022.5 487.0,2022.5 490.0,2030.0 494.4,2015.7 496.9,2015.7 498.0,2025.5 506.8,2025.5 510.0,2030.0 514.2,2022.5 517.0,2030.0 519.0,2025.5 529.0,2025.5 531.5,2016.9 540.0,2016.9 542.6,2009.5 545.0,2005.8 548.8,2005.8 551.0,2009.0 556.2,2002.0 560.0,1997.1 561.8,1989.0 566.0,1986.9 566.0,1974.9 570.3,1974.9 572.4,1978.4 575.9,1974.9 579.5,1971.4 579.5,1964.3 583.0,1960.1 586.5,1958.0 590.1,1953.7 590.1,1950.9 592.9,1945.2 596.4,1941.7 600.0,1938.2 604.9,1938.2 607.0,1933.9 610.0,1930.4 613.0,1926.1 630.7,1915.5 641.3,1904.9 655.4,1894.3 669.5,1883.7 687.2,1869.6 704.9,1860.8 722.5,1853.7 736.7,1850.2 747.3,1852.7 754.3,1850.2 765.0,1852.7 796.7,1852.7 803.8,1856.2 810.9,1855.5 860.4,1855.5 863.9,1852.7 885.1,1849.1 892.2,1843.1 906.3,1841.3 913.4,1836.0 931.0,1829.0 950.0,1821.7 969.9,1817.7 993.7,1811.7 1017.6,1805.8 1045.4,1799.8 1073.2,1797.0 1089.1,1789.9 1101.0,1779.9 1113.0,1768.2 1122.9,1758.3 1132.8,1760.3 1144.8,1766.2 1164.6,1768.2 1180.5,1773.0 1190.5,1780.1 1196.4,1787.9 1208.3,1799.8 1224.2,1813.7 1240.2,1833.6 1256.0,1845.5 1271.9,1857.4 1287.8,1871.4 1303.7,1879.3 1323.6,1885.3 1347.5,1889.2 1363.4,1893.2 1379.3,1891.2 1392.0,1889.2" fill="none" stroke="#ff8000" stroke-width="3.00" stroke-linejoin="round" stroke-linecap="butt"/>
<polyline points="274.7,2033.5 530.0,2033.0 536.0,2028.0 540.0,2025.0 545.1,2020.6 551.3,2015.7 556.2,2012.0 560.0,2005.8 563.7,2000.8 567.0,1990.0 571.0,1988.3 576.6,1984.8 579.5,1979.2 583.7,1972.8 585.1,1967.8 589.4,1965.0 590.1,1960.8 593.6,1956.5 596.4,1950.9 600.0,1948.1 603.5,1944.5 607.0,1941.0 610.0,1936.7 613.0,1933.2 630.7,1915.5 651.9,1892.6 666.0,1880.2 680.1,1862.5 694.3,1848.4 708.4,1834.3 726.1,1823.7 743.7,1816.6 757.9,1813.1 800.3,1813.8 842.7,1812.4 860.4,1807.8 878.0,1802.5 895.7,1791.9 913.4,1781.3 931.0,1772.4 950.0,1764.2 973.8,1757.1 1001.7,1752.3 1029.5,1746.4 1069.2,1741.2 1093.1,1736.4 1113.0,1726.5 1120.9,1724.5 1132.8,1724.5 1144.8,1730.5 1156.7,1731.7 1172.6,1738.4 1188.5,1752.3 1204.4,1770.0 1220.3,1785.9 1236.2,1803.8 1252.1,1821.7 1268.0,1839.6 1283.9,1853.5 1299.8,1865.4 1315.7,1873.3 1335.5,1881.3 1351.4,1887.2 1371.3,1889.2 1392.0,1887.2" fill="none" stroke="#ff00ff" stroke-width="3.00" stroke-linejoin="round" stroke-linecap="butt"/>
<polyline points="274.7,2033.5 318.0,2033.0 321.0,2029.6 322.3,2027.7 328.4,2025.9 343.3,2025.9 343.9,2030.2 348.8,2025.9 350.7,2030.2 351.9,2008.6 356.9,2008.6 358.1,2019.1 364.3,2019.7 366.8,2023.4 369.3,2015.4 374.2,2015.4 376.7,2027.1 379.1,2011.6 385.3,2008.6 388.4,2016.6 392.1,2001.1 395.8,1998.0 397.7,2023.4 402.6,2011.6 405.1,1998.0 411.3,1998.0 411.9,2012.3 416.2,2023.4 420.0,2008.6 423.7,2004.8 427.4,2019.7 430.5,2030.2 434.2,2019.1 437.3,2011.6 441.2,2007.0 441.2,2016.9 444.3,2018.1 444.3,2026.8 447.4,2029.3 451.1,2025.5 454.8,2031.7 462.3,2031.7 464.7,2025.5 470.9,2022.5 474.6,2016.9 477.7,2007.0 480.8,2002.0 481.4,1984.7 484.5,1988.4 485.8,1997.1 489.5,2002.0 493.2,1995.9 495.7,1989.7 496.9,2000.8 499.4,2010.7 505.5,2011.9 509.3,2019.4 513.0,2016.9 514.2,2007.0 516.1,2002.0 517.9,2010.7 520.4,2014.4 522.9,2011.9 526.6,2008.8 529.0,2005.8 530.3,1994.6 532.8,1978.6 535.8,1982.3 537.7,1992.2 539.6,1997.1 542.6,1988.4 542.4,1971.4 549.1,1967.8 549.1,1975.6 552.6,1978.4 553.3,1986.2 556.1,1986.2 556.9,1981.3 559.3,1974.9 562.5,1965.0 563.2,1972.8 565.7,1941.0 567.1,1941.0 569.6,1947.3 569.9,1969.3 572.4,1972.1 575.9,1968.6 579.5,1955.1 580.2,1962.2 583.0,1943.8 585.8,1947.3 586.5,1955.8 589.4,1944.5 591.5,1948.1 593.3,1937.5 595.7,1934.6 600.7,1934.6 605.6,1931.1 609.2,1924.0 618.3,1917.3 634.2,1899.6 650.1,1887.3 666.0,1866.1 676.6,1862.5 687.2,1843.1 701.3,1834.3 712.0,1823.7 726.1,1814.8 736.7,1805.3 754.3,1804.2 759.6,1798.9 765.0,1803.2 782.6,1798.9 803.8,1791.2 828.6,1786.6 849.8,1782.0 871.0,1774.2 888.6,1761.8 906.3,1745.9 924.0,1735.3 941.6,1728.3 950.0,1724.5 973.8,1716.6 1001.7,1708.6 1029.5,1700.6 1053.3,1695.9 1073.2,1690.7 1085.1,1678.8 1097.1,1660.9 1105.0,1637.1 1113.0,1613.2 1120.1,1596.5 1132.8,1599.3 1140.8,1615.2 1156.7,1631.1 1172.6,1641.0 1192.4,1645.0 1198.4,1653.0 1208.3,1672.8 1220.3,1696.7 1228.2,1720.5 1240.2,1744.4 1256.0,1764.2 1260.0,1770.0 1271.9,1783.9 1287.8,1799.8 1303.7,1813.7 1319.6,1823.7 1335.5,1829.6 1347.5,1837.6 1363.4,1844.7 1379.3,1846.3 1392.0,1843.5" fill="none" stroke="#0000ff" stroke-width="3.00" stroke-linejoin="round" stroke-linecap="butt"/>
<polyline points="274.7,2033.5 548.3,2033.5 548.8,2031.7 550.1,2024.3 552.5,2018.1 555.0,2016.0 560.0,2000.0 566.1,1988.4 569.6,1985.5 575.9,1979.9 576.6,1977.7 583.7,1977.7 585.8,1974.2 595.0,1974.2 597.1,1969.3 600.0,1965.7 600.7,1958.0 604.2,1955.1 607.0,1958.0 608.4,1955.1 609.9,1948.1 613.0,1940.3 623.6,1926.1 636.0,1912.0 644.8,1897.9 653.6,1880.2 662.5,1859.0 673.1,1834.3 683.7,1806.0 694.3,1777.7 701.3,1756.5 708.4,1735.3 715.5,1714.1 726.1,1687.9 736.7,1663.1 743.7,1641.9 754.3,1624.3 763.2,1603.1 772.0,1574.8 786.1,1553.6 793.2,1525.3 803.8,1490.0 807.3,1462.2 814.4,1430.4 823.3,1398.6 832.1,1380.9 840.9,1375.6 848.0,1379.1 856.8,1398.6 865.7,1437.4 872.7,1469.2 878.0,1490.0 885.0,1513.0 888.6,1535.9 897.5,1558.9 904.5,1546.5 913.4,1525.3 918.5,1496.9 922.2,1479.5 926.0,1459.0 929.1,1438.5 932.8,1418.6 935.9,1401.2 939.6,1381.4 942.7,1360.2 946.5,1343.5 949.6,1329.8 953.3,1313.0 956.4,1296.3 960.1,1282.6 963.2,1272.0 967.0,1262.1 970.1,1252.2 973.2,1245.3 976.9,1242.2 980.0,1235.4 983.1,1232.0 986.8,1235.4 993.0,1238.5 996.8,1245.3 999.3,1264.6 1005.6,1273.1 1011.6,1296.9 1017.6,1320.8 1023.5,1352.6 1029.5,1376.4 1035.5,1404.2 1043.4,1432.1 1055.3,1448.0 1061.3,1471.8 1067.2,1490.0 1073.2,1513.8 1081.2,1549.6 1089.1,1573.5 1097.1,1597.3 1105.0,1625.1 1113.0,1645.0 1120.9,1656.9 1132.8,1668.9 1140.8,1696.7 1148.7,1708.6 1156.7,1728.5 1168.6,1740.4 1180.5,1748.3 1188.5,1764.2 1192.4,1778.0 1196.4,1789.9 1204.4,1801.8 1216.3,1815.7 1228.2,1825.6 1236.2,1829.6 1244.1,1845.5 1252.1,1859.4 1260.0,1863.4 1268.0,1859.4 1279.9,1865.4 1287.8,1887.2 1295.8,1889.2 1311.7,1891.2 1327.6,1901.2 1335.5,1907.1 1347.5,1909.1 1359.4,1919.0 1371.3,1933.0 1383.3,1946.9 1392.0,1954.8" fill="none" stroke="#ff0000" stroke-width="3.00" stroke-linejoin="round" stroke-linecap="butt"/>
<polyline points="274.7,2018.0 287.7,2030.3 289.4,2033.0 316.0,2031.0 340.7,2026.5 376.0,2019.5 402.5,2015.1 437.0,2005.8 455.5,2000.5 471.4,1995.2 490.0,1987.2 508.5,1979.3 524.4,1974.8 535.0,1968.0 549.2,1957.9 560.0,1947.3 570.6,1936.7 581.2,1922.6 595.3,1905.0 605.9,1892.6 616.5,1873.1 623.6,1859.0 634.2,1837.8 644.8,1813.1 651.9,1791.9 658.9,1767.1 664.2,1744.4 666.0,1738.9 671.3,1714.1 676.6,1666.7 680.1,1631.3 683.7,1574.8 685.4,1490.0 687.2,1373.8 690.7,1246.6 694.3,1225.4 696.0,1260.7 698.5,1262.5 701.3,1451.6 702.0,1638.4 704.9,1733.8 708.4,1769.2 712.0,1774.5 717.2,1758.6 722.5,1716.1 727.8,1680.8 729.6,1663.1 734.9,1659.6 736.7,1677.3 743.7,1712.6 750.8,1725.0 757.9,1709.1 768.5,1673.7 779.1,1631.3 786.1,1596.0 793.2,1567.7 800.3,1539.5 807.3,1518.3 812.7,1500.0 821.5,1465.7 832.1,1416.2 839.2,1370.3 842.7,1342.0 846.2,1306.7 849.8,1271.3 855.1,1221.9 860.4,1179.5 863.2,1175.2 867.4,1177.7 871.0,1221.9 876.3,1260.7 880.0,1303.1 881.9,1336.6 885.0,1366.5 888.1,1386.3 891.8,1403.7 894.9,1409.9 898.6,1419.9 904.8,1427.3 912.3,1433.5 918.5,1439.8 925.3,1446.6 932.2,1457.8 939.6,1470.8 945.8,1484.5 950.0,1494.0 958.0,1513.8 965.9,1549.6 973.8,1577.4 981.8,1599.3 989.7,1617.2 1001.7,1631.1 1013.6,1637.1 1037.4,1643.0 1049.4,1653.0 1063.3,1668.9 1091.1,1670.8 1101.0,1678.8 1109.0,1684.8 1114.9,1670.8 1120.9,1686.7 1124.9,1678.8 1132.8,1704.6 1140.8,1704.6 1150.7,1706.6 1164.6,1728.5 1174.6,1718.5 1184.5,1718.5 1196.4,1730.5 1212.3,1738.4 1224.2,1746.4 1236.2,1764.2 1240.2,1770.0 1252.1,1797.8 1264.0,1813.7 1275.9,1815.7 1285.8,1803.8 1295.8,1783.9 1303.7,1778.0 1315.7,1781.1 1325.6,1791.9 1335.5,1813.7 1343.5,1821.7 1355.4,1815.7 1363.4,1793.8 1371.3,1774.0 1379.3,1754.3 1392.0,1744.4" fill="none" stroke="#000000" stroke-width="3.00" stroke-linejoin="round" stroke-linecap="butt"/>
<rect x="274.7" y="1131.5" width="1118.8" height="904.5" fill="none" stroke="#000" stroke-width="3.20"/>
<line x1="303.0" y1="1205.9" x2="452.4" y2="1205.9" stroke="#000000" stroke-width="3.00" stroke-linecap="butt"/>
<text x="0" y="0" font-size="67.0" text-anchor="start" transform="translate(469.0,1227.2) scale(1.000,1.050)">CA</text>
<line x1="303.0" y1="1287.2" x2="452.4" y2="1287.2" stroke="#ff0000" stroke-width="3.00" stroke-linecap="butt"/>
<text x="0" y="0" font-size="67.0" text-anchor="start" transform="translate(469.0,1308.5) scale(1.000,1.050)">SO</text>
<line x1="303.0" y1="1368.5" x2="452.4" y2="1368.5" stroke="#0000ff" stroke-width="3.00" stroke-linecap="butt"/>
<text x="0" y="0" font-size="67.0" text-anchor="start" transform="translate(469.0,1389.8) scale(1.000,1.050)">CD0</text>
<line x1="303.0" y1="1449.8" x2="448.9" y2="1449.8" stroke="#ff00ff" stroke-width="3.00" stroke-linecap="butt"/>
<text x="0" y="0" font-size="67.0" text-anchor="start" transform="translate(469.0,1471.1) scale(1.000,1.050)">CD2.5</text>
<line x1="303.0" y1="1531.1" x2="448.9" y2="1531.1" stroke="#ff8000" stroke-width="3.00" stroke-linecap="butt"/>
<text x="0" y="0" font-size="67.0" text-anchor="start" transform="translate(469.0,1552.4) scale(1.000,1.050)">CD15</text>
<text x="0" y="0" font-size="55.5" transform="translate(120.5,1828.0) rotate(-90)">Absorbance / arb. un.</text>
<text x="589.0" y="2193.6" font-size="55.5">Wavenumber / cm</text>
<rect x="1039.2" y="2160.7" width="13.0" height="2.8" fill="#000"/>
<text x="1052.0" y="2169.7" font-size="36">1</text>
<path d="M38.0,1088.5 Q7.6,1140.0 38.0,1191.4" fill="none" stroke="#000" stroke-width="6.8"/>
<path d="M125.4,1088.5 Q152.2,1140.0 125.4,1191.4" fill="none" stroke="#000" stroke-width="6.8"/>
<text x="0" y="0" font-size="115.0" stroke="#fff" stroke-width="1.80" paint-order="fill" transform="translate(52.0,1173.0) scale(0.880,1)">b</text>
<line x1="255.9" y1="3128.0" x2="274.4" y2="3128.0" stroke="#000" stroke-width="3.20" stroke-linecap="butt"/>
<line x1="255.9" y1="2900.6" x2="274.4" y2="2900.6" stroke="#000" stroke-width="3.20" stroke-linecap="butt"/>
<line x1="255.9" y1="2677.3" x2="274.4" y2="2677.3" stroke="#000" stroke-width="3.20" stroke-linecap="butt"/>
<line x1="255.9" y1="2453.3" x2="274.4" y2="2453.3" stroke="#000" stroke-width="3.20" stroke-linecap="butt"/>
<line x1="255.9" y1="2226.5" x2="274.4" y2="2226.5" stroke="#000" stroke-width="3.20" stroke-linecap="butt"/>
<line x1="265.4" y1="3014.3" x2="274.4" y2="3014.3" stroke="#000" stroke-width="3.20" stroke-linecap="butt"/>
<line x1="265.4" y1="2788.9" x2="274.4" y2="2788.9" stroke="#000" stroke-width="3.20" stroke-linecap="butt"/>
<line x1="265.4" y1="2565.3" x2="274.4" y2="2565.3" stroke="#000" stroke-width="3.20" stroke-linecap="butt"/>
<line x1="265.4" y1="2339.9" x2="274.4" y2="2339.9" stroke="#000" stroke-width="3.20" stroke-linecap="butt"/>
<text x="0" y="0" font-size="45.5" text-anchor="end" transform="translate(243.0,3139.1) scale(1.000,1.050)">0.0</text>
<text x="0" y="0" font-size="45.5" text-anchor="end" transform="translate(243.0,2915.2) scale(1.000,1.050)">0.5</text>
<text x="0" y="0" font-size="45.5" text-anchor="end" transform="translate(243.0,2688.5) scale(1.000,1.050)">1.0</text>
<text x="0" y="0" font-size="45.5" text-anchor="end" transform="translate(243.0,2464.6) scale(1.000,1.050)">1.5</text>
<text x="0" y="0" font-size="45.5" text-anchor="end" transform="translate(243.0,2237.2) scale(1.000,1.050)">2.0</text>
<line x1="274.3" y1="3130.0" x2="274.3" y2="3148.5" stroke="#000" stroke-width="3.20" stroke-linecap="butt"/>
<line x1="460.3" y1="3130.0" x2="460.3" y2="3148.5" stroke="#000" stroke-width="3.20" stroke-linecap="butt"/>
<line x1="647.4" y1="3130.0" x2="647.4" y2="3148.5" stroke="#000" stroke-width="3.20" stroke-linecap="butt"/>
<line x1="835.0" y1="3130.0" x2="835.0" y2="3148.5" stroke="#000" stroke-width="3.20" stroke-linecap="butt"/>
<line x1="1021.0" y1="3130.0" x2="1021.0" y2="3148.5" stroke="#000" stroke-width="3.20" stroke-linecap="butt"/>
<line x1="1206.5" y1="3130.0" x2="1206.5" y2="3148.5" stroke="#000" stroke-width="3.20" stroke-linecap="butt"/>
<line x1="1393.0" y1="3130.0" x2="1393.0" y2="3148.5" stroke="#000" stroke-width="3.20" stroke-linecap="butt"/>
<line x1="367.1" y1="3130.0" x2="367.1" y2="3139.0" stroke="#000" stroke-width="3.20" stroke-linecap="butt"/>
<line x1="553.1" y1="3130.0" x2="553.1" y2="3139.0" stroke="#000" stroke-width="3.20" stroke-linecap="butt"/>
<line x1="740.1" y1="3130.0" x2="740.1" y2="3139.0" stroke="#000" stroke-width="3.20" stroke-linecap="butt"/>
<line x1="925.5" y1="3130.0" x2="925.5" y2="3139.0" stroke="#000" stroke-width="3.20" stroke-linecap="butt"/>
<line x1="1112.1" y1="3130.0" x2="1112.1" y2="3139.0" stroke="#000" stroke-width="3.20" stroke-linecap="butt"/>
<line x1="1298.2" y1="3130.0" x2="1298.2" y2="3139.0" stroke="#000" stroke-width="3.20" stroke-linecap="butt"/>
<text x="0" y="0" font-size="46.5" text-anchor="middle" transform="translate(271.3,3195.5) scale(1.000,1.050)">1800</text>
<text x="0" y="0" font-size="46.5" text-anchor="middle" transform="translate(460.3,3195.5) scale(1.000,1.050)">1750</text>
<text x="0" y="0" font-size="46.5" text-anchor="middle" transform="translate(647.4,3195.5) scale(1.000,1.050)">1700</text>
<text x="0" y="0" font-size="46.5" text-anchor="middle" transform="translate(835.0,3195.5) scale(1.000,1.050)">1650</text>
<text x="0" y="0" font-size="46.5" text-anchor="middle" transform="translate(1021.0,3195.5) scale(1.000,1.050)">1600</text>
<text x="0" y="0" font-size="46.5" text-anchor="middle" transform="translate(1206.5,3195.5) scale(1.000,1.050)">1550</text>
<text x="0" y="0" font-size="46.5" text-anchor="middle" transform="translate(1393.0,3195.5) scale(1.000,1.050)">1500</text>
<polyline points="274.7,3119.3 298.3,3116.9 457.3,3116.9 460.8,3120.4 499.7,3120.4 503.2,3123.9 580.9,3123.9 588.0,3127.5 593.3,3127.5 596.9,3123.9 625.1,3122.9 626.9,3120.4 644.6,3120.4 651.6,3115.8 660.5,3110.5 674.1,3103.4 688.3,3098.1 698.9,3089.3 709.5,3075.2 727.1,3054.0 741.3,3029.2 751.9,3015.1 762.5,2990.4 780.1,2972.7 790.7,2955.0 801.3,2944.4 815.5,2923.2 822.5,2902.0 827.8,2889.6 836.7,2877.3 845.5,2859.6 850.8,2845.5 861.4,2842.7 882.6,2842.7 900.3,2849.7 914.4,2863.1 930.3,2875.5 942.7,2870.2 949.8,2849.0 955.1,2813.7 960.4,2774.8 967.4,2750.1 974.5,2735.9 981.6,2727.1 992.2,2727.1 1001.0,2737.7 1008.0,2760.7 1016.9,2781.9 1024.0,2803.1 1034.6,2820.7 1045.2,2842.0 1052.2,2859.6 1056.2,2866.3 1062.4,2887.9 1071.6,2912.6 1080.9,2931.2 1090.2,2949.7 1099.5,2965.2 1111.8,2988.4 1127.3,3003.8 1136.6,3017.8 1148.9,3027.0 1164.4,3034.8 1179.9,3034.8 1195.3,3030.1 1213.9,3024.0 1226.3,3014.7 1232.4,3002.3 1235.5,2983.8 1238.6,2959.0 1241.7,2931.2 1244.8,2900.3 1249.4,2881.7 1254.1,2866.3 1258.7,2853.9 1263.4,2835.3 1266.5,2819.9 1269.5,2804.4 1272.6,2785.9 1277.3,2775.0 1283.5,2771.0 1289.6,2775.0 1295.8,2782.8 1300.5,2798.2 1306.6,2819.9 1311.3,2835.3 1317.5,2847.7 1323.7,2850.2 1331.4,2846.2 1340.7,2840.0 1350.0,2835.3 1359.2,2832.2 1367.0,2823.0 1371.6,2810.6 1380.9,2801.3 1392.0,2792.0" fill="none" stroke="#ff0000" stroke-width="3.00" stroke-linejoin="round" stroke-linecap="butt"/>
<polyline points="274.7,3113.3 291.2,3113.3 298.3,3110.5 305.3,3107.7 319.5,3104.1 333.6,3099.2 344.2,3092.8 354.8,3085.8 365.4,3076.9 374.2,3062.8 383.1,3050.4 397.2,3039.8 407.8,3034.5 418.4,3027.5 429.0,3020.4 437.8,3013.3 448.4,3006.3 460.8,2992.1 474.9,2972.7 489.1,2953.3 503.2,2933.8 513.8,2916.1 520.9,2895.0 528.0,2880.8 538.6,2868.4 549.2,2856.1 559.8,2840.2 570.4,2827.8 581.0,2810.1 584.5,2794.2 591.6,2783.6 602.2,2776.6 612.8,2769.5 623.4,2762.4 630.4,2758.9 644.6,2758.9 653.4,2762.4 660.0,2771.3 677.7,2790.7 695.3,2810.1 702.4,2824.3 709.5,2842.0 723.6,2863.1 741.3,2887.9 755.4,2905.5 766.0,2926.7 780.1,2937.3 794.3,2951.5 801.3,2957.8 815.5,2962.1 829.6,2969.2 850.8,2978.0 872.0,2978.0 896.7,2978.0 907.3,2981.5 928.6,2988.6 942.7,2997.4 956.8,3002.7 971.0,3013.3 985.1,3020.4 1006.3,3031.0 1027.5,3038.1 1045.2,3041.6 1059.3,3046.2 1108.8,3046.2 1111.8,3049.3 1139.7,3049.3 1142.8,3052.4 1176.8,3052.4 1179.9,3056.4 1192.2,3058.0 1203.1,3062.6 1235.5,3063.2 1247.9,3071.9 1263.4,3075.0 1275.7,3079.6 1291.2,3083.3 1312.8,3084.2 1325.2,3090.4 1334.5,3093.5 1362.3,3093.5 1377.8,3099.7 1392.0,3101.3" fill="none" stroke="#ff8000" stroke-width="3.00" stroke-linejoin="round" stroke-linecap="butt"/>
<polyline points="274.7,3122.9 294.7,3122.9 298.3,3120.4 326.5,3120.4 340.7,3114.0 351.3,3108.7 361.9,3103.4 372.5,3092.8 379.5,3082.2 386.6,3073.4 400.7,3061.0 411.3,3050.4 418.4,3034.5 425.5,3020.4 436.1,3008.0 446.7,2993.9 455.5,2983.3 460.8,2965.6 464.3,2951.5 474.9,2937.3 489.1,2919.7 499.7,2902.0 510.3,2887.9 517.3,2877.3 522.7,2856.1 526.2,2842.0 538.6,2827.8 549.2,2813.7 559.8,2797.8 570.4,2783.6 579.2,2767.7 584.5,2751.8 591.6,2743.0 602.2,2737.7 612.8,2732.4 637.5,2731.7 644.6,2737.7 653.4,2746.5 660.0,2760.7 674.1,2781.9 688.3,2803.1 698.9,2813.7 705.9,2838.4 720.1,2859.6 737.7,2884.3 751.9,2902.0 762.5,2923.2 776.6,2937.3 790.7,2951.5 808.4,2960.3 826.1,2969.2 840.2,2976.2 850.8,2986.8 872.0,2993.9 893.2,3001.0 921.5,3011.6 949.8,3020.4 971.0,3031.0 992.2,3041.6 1013.4,3050.4 1034.6,3057.5 1050.0,3059.5 1068.6,3064.2 1096.4,3068.8 1124.2,3071.9 1142.8,3075.9 1170.6,3077.1 1176.8,3080.2 1204.6,3084.2 1235.5,3085.8 1247.9,3092.0 1272.6,3095.7 1294.3,3100.6 1315.9,3103.7 1328.3,3107.4 1346.8,3110.5 1368.5,3110.5 1377.8,3113.6 1392.0,3113.6" fill="none" stroke="#ff00ff" stroke-width="3.00" stroke-linejoin="round" stroke-linecap="butt"/>
<polyline points="274.7,3117.6 294.7,3117.6 298.3,3114.0 308.9,3114.0 312.4,3117.6 323.0,3114.0 333.6,3110.5 344.2,3105.2 358.3,3098.1 368.9,3087.5 376.0,3076.9 383.1,3066.3 393.7,3055.7 407.8,3041.6 418.4,3022.2 429.0,3004.5 439.6,2990.4 450.2,2972.7 457.3,2958.6 462.6,2940.9 467.9,2930.3 478.5,2916.1 489.1,2898.5 499.7,2877.3 510.3,2859.6 517.3,2841.9 522.7,2824.3 529.7,2811.9 538.6,2801.3 549.2,2788.9 558.0,2773.0 566.8,2758.9 575.7,2743.0 581.0,2721.8 588.0,2704.1 598.6,2698.8 609.2,2695.3 619.8,2690.0 630.4,2687.0 644.6,2690.0 651.6,2697.1 662.2,2721.8 674.1,2743.0 688.3,2758.9 702.4,2778.3 713.0,2810.1 723.6,2831.3 737.7,2849.0 751.9,2870.2 762.5,2891.4 776.6,2916.1 790.7,2933.8 808.4,2942.7 822.5,2956.8 836.7,2963.9 850.8,2979.8 864.9,2986.8 879.1,2988.6 900.3,3001.0 921.5,3011.6 942.7,3018.6 963.9,3032.8 992.2,3046.9 1013.4,3057.5 1034.6,3064.6 1050.0,3068.8 1068.6,3076.5 1096.4,3080.2 1124.2,3083.3 1142.8,3086.4 1170.6,3086.4 1186.1,3090.4 1198.4,3093.5 1220.1,3093.5 1229.3,3088.9 1237.1,3083.3 1243.3,3092.0 1254.1,3096.6 1272.6,3099.7 1294.3,3100.6 1315.9,3104.3 1328.3,3109.9 1343.7,3110.5 1359.2,3108.0 1365.4,3110.5 1374.7,3116.7 1392.0,3116.7" fill="none" stroke="#0000ff" stroke-width="3.00" stroke-linejoin="round" stroke-linecap="butt"/>
<polyline points="275.3,2822.5 284.1,2815.4 294.7,2804.8 303.6,2790.7 308.9,2778.3 315.9,2771.3 324.8,2758.9 331.8,2743.0 338.9,2728.9 346.0,2711.2 351.0,2698.0 358.3,2678.1 367.2,2656.9 372.5,2635.7 377.8,2607.4 383.1,2582.7 388.4,2558.0 393.7,2540.3 399.0,2519.1 404.3,2501.4 409.6,2476.7 413.1,2451.9 416.6,2430.7 421.9,2406.0 425.5,2391.9 430.8,2374.2 437.8,2360.1 446.7,2358.3 453.7,2363.6 462.6,2372.4 473.2,2377.0 482.0,2384.8 487.3,2402.5 492.6,2427.2 497.9,2455.5 503.2,2487.3 510.3,2519.1 515.6,2547.3 520.9,2572.1 526.2,2593.3 533.3,2601.1 542.1,2602.1 549.2,2595.1 554.5,2577.4 561.5,2554.4 568.6,2526.1 575.7,2497.9 581.0,2462.5 584.5,2430.7 589.8,2395.4 595.1,2377.7 603.9,2360.1 612.8,2347.7 619.8,2337.1 630.4,2331.8 641.0,2335.3 649.9,2345.9 656.9,2363.6 662.2,2380.0 667.1,2398.9 675.9,2423.7 683.0,2448.4 690.0,2473.1 697.1,2497.9 702.4,2526.1 705.9,2554.4 711.2,2589.8 718.3,2618.0 725.4,2646.3 732.4,2674.6 736.0,2690.0 744.8,2725.3 753.6,2753.6 760.7,2781.9 769.5,2806.6 781.9,2831.3 792.5,2852.5 803.1,2866.7 815.5,2880.8 820.8,2905.5 829.6,2919.7 840.2,2930.3 847.3,2948.0 857.9,2958.6 872.0,2967.4 882.6,2979.8 893.2,2992.1 907.3,2999.2 921.5,3008.0 942.7,3018.6 963.9,3034.5 985.1,3045.1 1013.4,3057.5 1034.6,3064.6 1050.0,3070.3 1068.6,3075.0 1080.9,3079.6 1096.4,3083.3 1111.8,3086.4 1127.3,3090.4 1142.8,3093.5 1164.4,3094.5 1173.7,3101.3 1198.4,3104.3 1201.5,3107.4 1278.8,3107.4 1281.9,3110.5 1309.7,3111.2 1312.8,3114.2 1353.0,3114.2 1368.5,3107.4 1383.9,3106.8 1391.0,3102.8" fill="none" stroke="#000000" stroke-width="3.00" stroke-linejoin="round" stroke-linecap="butt"/>
<rect x="274.4" y="2226.5" width="1118.6" height="903.5" fill="none" stroke="#000" stroke-width="3.20"/>
<line x1="1021.9" y1="2283.5" x2="1167.8" y2="2283.5" stroke="#000000" stroke-width="3.00" stroke-linecap="butt"/>
<text x="0" y="0" font-size="67.0" text-anchor="start" transform="translate(1187.5,2304.8) scale(1.000,1.050)">CA</text>
<line x1="1021.9" y1="2364.9" x2="1167.8" y2="2364.9" stroke="#ff0000" stroke-width="3.00" stroke-linecap="butt"/>
<text x="0" y="0" font-size="67.0" text-anchor="start" transform="translate(1187.5,2386.2) scale(1.000,1.050)">SO</text>
<line x1="1021.9" y1="2446.4" x2="1167.8" y2="2446.4" stroke="#0000ff" stroke-width="3.00" stroke-linecap="butt"/>
<text x="0" y="0" font-size="67.0" text-anchor="start" transform="translate(1187.5,2467.7) scale(1.000,1.050)">CD0</text>
<line x1="1021.9" y1="2527.8" x2="1171.4" y2="2527.8" stroke="#ff00ff" stroke-width="3.00" stroke-linecap="butt"/>
<text x="0" y="0" font-size="67.0" text-anchor="start" transform="translate(1187.5,2549.2) scale(1.000,1.050)">CD2.5</text>
<line x1="1021.9" y1="2609.3" x2="1171.4" y2="2609.3" stroke="#ff8000" stroke-width="3.00" stroke-linecap="butt"/>
<text x="0" y="0" font-size="67.0" text-anchor="start" transform="translate(1187.5,2630.6) scale(1.000,1.050)">CD15</text>
<text x="0" y="0" font-size="55.5" transform="translate(120.5,2922.5) rotate(-90)">Absorbance / arb. un.</text>
<text x="589.0" y="3285.5" font-size="55.5">Wavenumber / cm</text>
<rect x="1039.2" y="3252.6" width="13.0" height="2.8" fill="#000"/>
<text x="1052.0" y="3261.6" font-size="36">1</text>
<path d="M40.6,2261.4 Q12.2,2312.9 40.6,2364.3" fill="none" stroke="#000" stroke-width="6.8"/>
<path d="M118.4,2261.4 Q146.8,2312.9 118.4,2364.3" fill="none" stroke="#000" stroke-width="6.8"/>
<text x="0" y="0" font-size="110.0" stroke="#fff" stroke-width="1.20" paint-order="fill" transform="translate(54.0,2345.5) scale(0.880,1)">c</text>
</svg></body></html>
